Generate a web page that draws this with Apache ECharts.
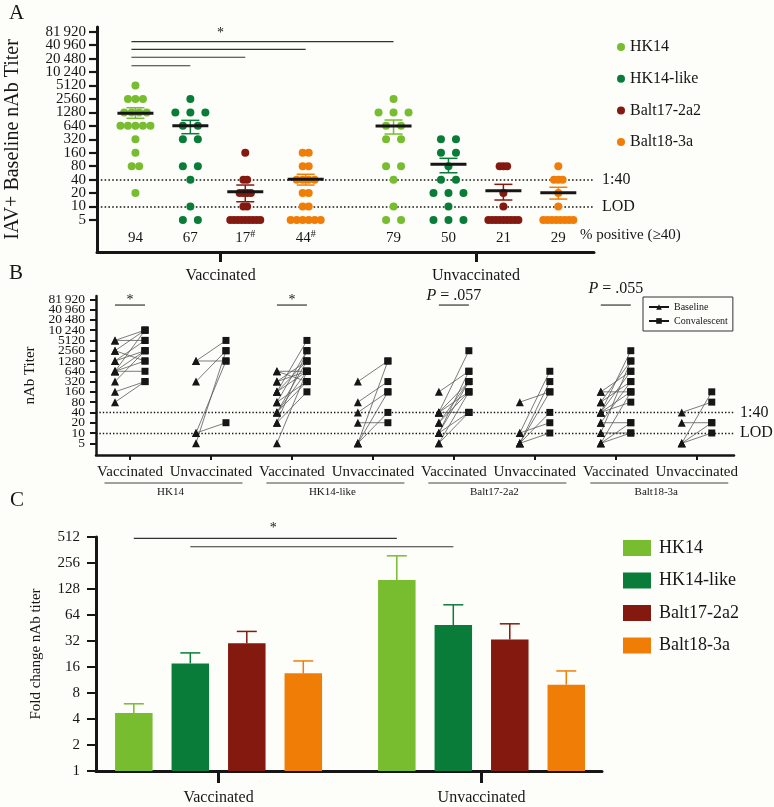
<!DOCTYPE html>
<html><head><meta charset="utf-8">
<script src="https://cdn.jsdelivr.net/npm/echarts@6/dist/echarts.min.js"></script>
<style>html,body{margin:0;padding:0;background:#fdfdf9;}#c{width:774px;height:807px;}</style>
</head><body><div id="c"></div>
<script>
// ---------------- DATA ----------------
const viruses = ['HK14', 'HK14-like', 'Balt17-2a2', 'Balt18-3a'];
const groups = ['Vaccinated', 'Unvaccinated'];
// Panel A: baseline nAb titers (one value per subject)
const aHK14Vacc      = [5120, 2560, 2560, 2560, 1280, 1280, 1280, 1280, 640, 640, 640, 640, 640, 320, 160, 80, 80, 20];
const aHK14likeVacc  = [2560, 1280, 1280, 1280, 640, 640, 320, 320, 80, 80, 40, 10, 5, 5];
const aBalt17Vacc    = [160, 40, 40, 20, 20, 20, 20, 10, 10, 5, 5, 5, 5, 5, 5, 5, 5, 5];
const aBalt18Vacc    = [160, 160, 80, 80, 40, 40, 40, 40, 20, 20, 10, 10, 5, 5, 5, 5, 5, 5];
const aHK14Unvac     = [2560, 1280, 1280, 1280, 640, 640, 320, 320, 80, 80, 40, 10, 5, 5];
const aHK14likeUnvac = [320, 320, 160, 160, 80, 40, 40, 20, 20, 20, 10, 5, 5, 5];
const aBalt17Unvac   = [80, 80, 80, 20, 10, 5, 5, 5, 5, 5, 5, 5, 5, 5];
const aBalt18Unvac   = [80, 40, 40, 40, 20, 10, 5, 5, 5, 5, 5, 5, 5, 5];
const meanA  = [1230, 645, 21.5, 40.7, 635, 88, 22.6, 20.4];
const semLoA = [943, 427, 12.8, 30.3, 420, 57, 14, 14.7];
const semHiA = [1630, 850, 30.3, 52.7, 864, 120, 31.4, 27];
const pctA   = ['94', '67', '17', '44', '79', '50', '21', '29'];
const pctMarkA = ['', '', '#', '#', '', '', '', ''];
const yTicksA = [5, 10, 20, 40, 80, 160, 320, 640, 1280, 2560, 5120, 10240, 20480, 40960, 81920];
// Panel B: [baseline, convalescent] pairs
const bHK14Vacc = [[5120,5120],[5120,10240],[2560,10240],[2560,1280],[1280,5120],[1280,2560],[640,10240],[640,640],[640,1280],[640,2560],[320,2560],[160,320],[80,320]];
const bHK14Unvac = [[1280,1280],[1280,5120],[320,2560],[10,20],[10,1280],[5,2560]];
const bHK14likeVacc = [[640,640],[640,320],[320,1280],[320,640],[160,5120],[160,1280],[160,640],[80,2560],[80,320],[40,1280],[40,640],[40,320],[20,2560],[20,160],[5,640]];
const bHK14likeUnvac = [[320,1280],[80,320],[40,160],[20,20],[5,1280],[5,160],[5,40]];
const bBalt17Vacc = [[160,640],[40,2560],[40,320],[40,160],[40,40],[20,320],[20,160],[10,640],[10,320],[10,40],[5,160],[5,40]];
const bBalt17Unvac = [[80,160],[10,640],[10,20],[5,320],[5,160],[5,40],[5,10]];
const bBalt18Vacc = [[160,160],[160,640],[80,1280],[80,320],[40,2560],[40,640],[40,160],[40,80],[20,20],[20,320],[10,1280],[10,10],[5,160],[5,20],[5,10]];
const bBalt18Unvac = [[40,80],[20,20],[5,160],[5,10],[5,20]];
// Panel C: fold change (mean, upper error)
const cVacc      = [4.7, 17.6, 30.2, 13.5];
const cVaccErr   = [6.0, 23.3, 41.3, 18.8];
const cUnvac     = [163, 48.9, 33.4, 10.0];
const cUnvacErr  = [310, 84, 50.6, 14.4];

// ---------------- STYLE / LAYOUT ----------------
const FONT = "'Liberation Serif','DejaVu Serif',serif";
const INK = '#161616';
const colors = ['#78bc30', '#0a7c3a', '#83190f', '#f07e06'];
const t5 = v => Math.log2(v / 5);
const fmtTiter = n => n >= 10000 ? String(n).slice(0, -3) + '\u2009' + String(n).slice(-3) : String(n);
const posA = [0, 1, 2, 3.1, 4.7, 5.7, 6.7, 7.7];
const labelPosA = [(posA[0] + posA[3]) / 2, (posA[4] + posA[7]) / 2];
const aGroups = [aHK14Vacc, aHK14likeVacc, aBalt17Vacc, aBalt18Vacc, aHK14Unvac, aHK14likeUnvac, aBalt17Unvac, aBalt18Unvac];
const bGroups = [bHK14Vacc, bHK14Unvac, bHK14likeVacc, bHK14likeUnvac, bBalt17Vacc, bBalt17Unvac, bBalt18Vacc, bBalt18Unvac];
const yMinA = -2.38, yMaxA = 14.35, yMinB = -1.14, yMaxB = 14.32;
const barStep = 0.2148, barW = 0.1426;
const tickPos = yTicksA.map(t5);
const tickEven = tickPos.filter((v, i) => i % 2 === 0);
const tickOdd = tickPos.filter((v, i) => i % 2 === 1);

function swarm(values, gx) {
  const counts = {};
  values.forEach(v => counts[v] = (counts[v] || 0) + 1);
  const maxRow = Math.max(...Object.values(counts));
  const sp = maxRow > 1 ? Math.min(15, 30 / (maxRow - 1)) : 0;
  const out = [];
  Object.keys(counts).forEach(k => {
    const n = counts[k];
    for (let i = 0; i < n; i++) out.push({ value: [gx, t5(+k)], symbolOffset: [(i - (n - 1) / 2) * sp, 0] });
  });
  return out;
}
const txt = (x, y, text, font, align, extra) => ({
  type: 'text', x: x, y: y,
  style: Object.assign({ text: text, fill: INK, font: font, align: align || 'center', verticalAlign: 'middle', textAlign: align || 'center', textVerticalAlign: 'middle' }, extra || {})
});

const series = [];
// ---- Panel A ----
viruses.forEach((v, k) => {
  series.push({
    name: v, type: 'scatter', xAxisIndex: 0, yAxisIndex: 0, symbol: 'circle', symbolSize: 8,
    itemStyle: { color: colors[k], opacity: 1 }, z: 3,
    data: swarm(aGroups[k], posA[k]).concat(swarm(aGroups[k + 4], posA[k + 4]))
  });
});
series.push({
  type: 'custom', xAxisIndex: 0, yAxisIndex: 0, z: 4, silent: true,
  encode: { x: 0, y: [1, 2, 3] },
  data: meanA.map((m, g) => [posA[g], t5(m), t5(semLoA[g]), t5(semHiA[g]), g % 4]),
  renderItem: (p, api) => {
    const x = api.value(0);
    const c = api.coord([x, api.value(1)]), lo = api.coord([x, api.value(2)]), hi = api.coord([x, api.value(3)]);
    const col = colors[api.value(4)];
    const st = { stroke: col, lineWidth: 1.5 };
    return { type: 'group', children: [
      { type: 'line', shape: { x1: c[0], y1: hi[1], x2: c[0], y2: lo[1] }, style: st },
      { type: 'line', shape: { x1: c[0] - 9, y1: hi[1], x2: c[0] + 9, y2: hi[1] }, style: st },
      { type: 'line', shape: { x1: c[0] - 9, y1: lo[1], x2: c[0] + 9, y2: lo[1] }, style: st },
      { type: 'line', shape: { x1: c[0] - 18, y1: c[1], x2: c[0] + 18, y2: c[1] }, style: { stroke: INK, lineWidth: 3 } }
    ] };
  }
});
// A annotations: % positive row, significance bars, reference lines
const sigA = [[0, 4, 13.26], [0, 3, 12.69], [0, 2, 12.10], [0, 1, 11.47]];
series.push({
  type: 'custom', xAxisIndex: 0, yAxisIndex: 0, z: 2, silent: true,
  data: pctA.map((p, g) => [posA[g], g]),
  renderItem: (p, api) => {
    const g = api.value(1);
    const c = api.coord([api.value(0), yMinA]);
    const el = txt(c[0], c[1] - 14, pctMarkA[g] ? '{n|' + pctA[g] + '}{s|' + pctMarkA[g] + '}' : pctA[g], '15px ' + FONT, 'center', {
      rich: { n: { font: '15px ' + FONT, fill: INK }, s: { font: '10px ' + FONT, fill: INK, padding: [0, 0, 8, 0] } }
    });
    const kids = [el];
    if (g === 0) {
      sigA.forEach(s => {
        const a = api.coord([posA[s[0]], s[2]]), b = api.coord([posA[s[1]], s[2]]);
        kids.push({ type: 'line', shape: { x1: a[0] - 4, y1: a[1], x2: b[0], y2: b[1] }, style: { stroke: '#333', lineWidth: 1.2 } });
      });
      const st = api.coord([labelPosA[0], 13.9]);
      kids.push(txt(st[0], st[1], '*', '14px ' + FONT));
    }
    return { type: 'group', children: kids };
  },
  markLine: {
    silent: true, symbol: 'none', z: 1,
    lineStyle: { color: INK, type: [1.6, 2.2], width: 1.6 },
    label: { position: 'end', distance: 8, color: INK, fontFamily: FONT, fontSize: 16 },
    data: [{ yAxis: t5(40), label: { formatter: '1:40' } }, { yAxis: t5(10), label: { formatter: 'LOD' } }]
  }
});
// ---- Panel B ----
series.push({ name: 'Baseline', type: 'line', xAxisIndex: 1, yAxisIndex: 1, data: [], symbol: 'triangle', symbolSize: 7, itemStyle: { color: INK }, lineStyle: { color: INK, width: 1 } });
series.push({ name: 'Convalescent', type: 'line', xAxisIndex: 1, yAxisIndex: 1, data: [], symbol: 'rect', symbolSize: 7, itemStyle: { color: INK }, lineStyle: { color: INK, width: 1 } });
const bLines = [], bBase = [], bConv = [];
bGroups.forEach((arr, g) => arr.forEach(pr => {
  bLines.push([g, t5(pr[0]), t5(pr[1])]);
  bBase.push({ value: [g, t5(pr[0])], symbolOffset: [-15, 0] });
  bConv.push({ value: [g, t5(pr[1])], symbolOffset: [15, 0] });
}));
series.push({
  type: 'custom', xAxisIndex: 1, yAxisIndex: 1, z: 2, silent: true, encode: { x: 0, y: [1, 2] },
  data: bLines,
  renderItem: (p, api) => {
    const a = api.coord([api.value(0), api.value(1)]), b = api.coord([api.value(0), api.value(2)]);
    return { type: 'line', shape: { x1: a[0] - 15, y1: a[1], x2: b[0] + 15, y2: b[1] }, style: { stroke: '#5a5a5a', lineWidth: 0.8 } };
  }
});
series.push({ name: 'bBase', type: 'scatter', xAxisIndex: 1, yAxisIndex: 1, symbol: 'triangle', symbolSize: 8, itemStyle: { color: INK, opacity: 1 }, z: 3, data: bBase });
series.push({ name: 'bConv', type: 'scatter', xAxisIndex: 1, yAxisIndex: 1, symbol: 'rect', symbolSize: 7, itemStyle: { color: INK, opacity: 1 }, z: 3, data: bConv });
const sigB = [[0, '*', 13.9], [2, '*', 13.9], [4, '{i|P} = .057', 14.32], [6, '{i|P} = .055', 14.98]];
series.push({
  type: 'custom', xAxisIndex: 1, yAxisIndex: 1, z: 2, silent: true,
  data: viruses.map((v, k) => [2 * k + 0.5, k]),
  renderItem: (p, api) => {
    const k = api.value(1);
    const c = api.coord([api.value(0), yMinB]);
    const kids = [
      { type: 'line', shape: { x1: c[0] - 66, y1: c[1] + 28, x2: c[0] + 72, y2: c[1] + 28 }, style: { stroke: '#444', lineWidth: 1 } },
      txt(c[0], c[1] + 37, viruses[k], '11px ' + FONT)
    ];
    const s = sigB[k];
    const l = api.coord([s[0], 13.44]), tp = api.coord([s[0], s[2]]);
    kids.push({ type: 'line', shape: { x1: l[0] - 15, y1: l[1], x2: l[0] + 15, y2: l[1] }, style: { stroke: '#333', lineWidth: 1.2 } });
    kids.push(txt(tp[0], tp[1], s[1], (k < 2 ? '14px ' : '16px ') + FONT, 'center', { rich: { i: { font: 'italic 16px ' + FONT, fill: INK } } }));
    return { type: 'group', children: kids };
  },
  markLine: {
    silent: true, symbol: 'none', z: 1,
    lineStyle: { color: INK, type: [1.4, 2], width: 1.4 },
    label: { position: 'end', distance: 6, color: INK, fontFamily: FONT, fontSize: 16 },
    data: [{ yAxis: t5(40), label: { formatter: '1:40' } }, { yAxis: t5(10), label: { formatter: 'LOD' } }]
  }
});
// ---- Panel C ----
viruses.forEach((v, k) => {
  series.push({
    name: v, type: 'custom', xAxisIndex: 2, yAxisIndex: 2, z: 3, itemStyle: { color: colors[k], opacity: 1 },
    encode: { x: 0, y: [1, 2] },
    data: [[0, cVacc[k], cVaccErr[k]], [1, cUnvac[k], cUnvacErr[k]]],
    renderItem: (p, api) => {
      const x = api.value(0) + (k - 1.5) * barStep;
      const top = api.coord([x, api.value(1)]), base = api.coord([x, 1]), err = api.coord([x, api.value(2)]);
      const l = api.coord([x - barW / 2, 1])[0], r = api.coord([x + barW / 2, 1])[0];
      const st = { stroke: colors[k], lineWidth: 1.5 };
      return { type: 'group', children: [
        { type: 'line', shape: { x1: top[0], y1: top[1], x2: err[0], y2: err[1] }, style: st },
        { type: 'line', shape: { x1: err[0] - 10, y1: err[1], x2: err[0] + 10, y2: err[1] }, style: st },
        { type: 'rect', shape: { x: l, y: top[1], width: r - l, height: base[1] - top[1] }, style: { fill: colors[k] } }
      ] };
    }
  });
});
const sigC = [[0, 494], [1, 395]];
series.push({
  type: 'custom', xAxisIndex: 2, yAxisIndex: 2, z: 2, silent: true,
  data: sigC.map(s => [s[0], s[1]]),
  renderItem: (p, api) => {
    const k = api.value(0);
    const a = api.coord([(k - 1.5) * barStep, api.value(1)]), b = api.coord([1 + (k - 1.5) * barStep, api.value(1)]);
    const kids = [{ type: 'line', shape: { x1: a[0], y1: a[1], x2: b[0], y2: b[1] }, style: { stroke: '#333', lineWidth: 1.2 } }];
    if (k === 0) kids.push(txt((a[0] + b[0]) / 2 + 8, a[1] - 10, '*', '14px ' + FONT));
    return { type: 'group', children: kids };
  }
});

const axisLine = w => ({ show: true, onZero: false, lineStyle: { color: INK, width: w } });
const titerLabel = v => fmtTiter(Math.round(5 * Math.pow(2, v)));
const labA = (vals) => ({ customValues: vals, showMinLabel: true, showMaxLabel: true, margin: 11, fontSize: 15, color: INK, fontFamily: FONT, formatter: titerLabel });
const labB = (vals) => ({ customValues: vals, showMinLabel: true, showMaxLabel: true, margin: 11, fontSize: 13.5, color: INK, fontFamily: FONT, formatter: titerLabel });
const option = {
  backgroundColor: '#fdfdf9',
  animation: false,
  textStyle: { fontFamily: FONT, color: INK },
  grid: [
    { left: 97, top: 27, width: 497, height: 225, outerBoundsMode: 'none', containLabel: false },
    { left: 96, top: 296, width: 638, height: 159, outerBoundsMode: 'none', containLabel: false },
    { left: 96, top: 537, width: 506, height: 234, outerBoundsMode: 'none', containLabel: false }
  ],
  xAxis: [
    { gridIndex: 0, type: 'value', min: -0.7, max: 8.35, splitLine: { show: false }, axisLine: axisLine(3),
      axisTick: { show: true, customValues: labelPosA, length: 10, lineStyle: { color: INK, width: 3 } },
      axisLabel: { customValues: labelPosA, margin: 16, fontSize: 16, color: INK, fontFamily: FONT, formatter: v => groups[labelPosA.indexOf(v)] } },
    { gridIndex: 1, type: 'value', min: -0.42, max: 7.46, splitLine: { show: false }, axisLine: axisLine(2.5),
      axisTick: { show: true, customValues: [0, 1, 2, 3, 4, 5, 6, 7], length: 5, lineStyle: { color: INK, width: 2 } },
      axisLabel: { customValues: [0, 1, 2, 3, 4, 5, 6, 7], margin: 10, fontSize: 15, color: INK, fontFamily: FONT, formatter: v => groups[Math.round(v) % 2] } },
    { gridIndex: 2, type: 'value', min: -0.466, max: 1.458, splitLine: { show: false }, axisLine: axisLine(3),
      axisTick: { show: true, customValues: [0, 1], length: 12, lineStyle: { color: INK, width: 3 } },
      axisLabel: { customValues: [0, 1], margin: 19, fontSize: 16, color: INK, fontFamily: FONT, formatter: v => groups[Math.round(v)] } }
  ],
  yAxis: [
    { gridIndex: 0, type: 'value', position: 'left', min: yMinA, max: yMaxA, splitLine: { show: false }, axisLine: axisLine(3),
      name: 'IAV+ Baseline nAb Titer', nameLocation: 'middle', nameGap: 74, nameRotate: 90,
      nameTextStyle: { fontSize: 20, color: INK, fontFamily: FONT },
      axisTick: { show: true, customValues: tickPos, length: 8, lineStyle: { color: INK, width: 2.2 } },
      axisLabel: labA(tickEven) },
    { gridIndex: 1, type: 'value', position: 'left', min: yMinB, max: yMaxB, splitLine: { show: false }, axisLine: axisLine(2.5),
      name: 'nAb Titer', nameLocation: 'middle', nameGap: 49, nameRotate: 90,
      nameTextStyle: { fontSize: 15, color: INK, fontFamily: FONT },
      axisTick: { show: true, customValues: tickPos, length: 6, lineStyle: { color: INK, width: 2 } },
      axisLabel: labB(tickEven) },
    { gridIndex: 2, type: 'log', logBase: 2, min: 1, max: 512, splitLine: { show: false }, axisLine: axisLine(3),
      name: 'Fold change nAb titer', nameLocation: 'middle', nameGap: 52, nameRotate: 90,
      nameTextStyle: { fontSize: 15, color: INK, fontFamily: FONT },
      axisTick: { show: true, length: 9, lineStyle: { color: INK, width: 2 } },
      axisLabel: { showMinLabel: true, showMaxLabel: true, margin: 16, fontSize: 15, color: INK, fontFamily: FONT } },
    { gridIndex: 0, type: 'value', position: 'left', offset: 0, min: yMinA, max: yMaxA, splitLine: { show: false },
      axisLine: { show: false, onZero: false }, axisTick: { show: false }, axisLabel: labA(tickOdd) },
    { gridIndex: 1, type: 'value', position: 'left', offset: 0, min: yMinB, max: yMaxB, splitLine: { show: false },
      axisLine: { show: false, onZero: false }, axisTick: { show: false }, axisLabel: labB(tickOdd) }
  ],
  legend: [
    { left: 612, top: 34, orient: 'vertical', itemWidth: 8, itemHeight: 8, itemGap: 15.7, selectedMode: false,
      textStyle: { fontSize: 16, lineHeight: 16, color: INK, fontFamily: FONT },
      data: viruses.map(v => ({ name: v, icon: 'circle' })) },
    { left: 643, top: 297, orient: 'vertical', itemWidth: 20, itemHeight: 7, itemGap: 2, selectedMode: false,
      padding: [4, 5, 4, 5], borderColor: '#333', borderWidth: 1,
      textStyle: { fontSize: 10, lineHeight: 12, color: INK, fontFamily: FONT },
      data: ['Baseline', 'Convalescent'] },
    { left: 618, top: 534, orient: 'vertical', itemWidth: 28, itemHeight: 16, itemGap: 14.5, selectedMode: false,
      textStyle: { fontSize: 18, lineHeight: 18, color: INK, fontFamily: FONT, padding: [0, 0, 0, 3] },
      data: viruses.map(v => ({ name: v, icon: 'rect' })) }
  ],
  graphic: [
    { type: 'text', left: 9, top: 3, style: { text: 'A', font: '21px ' + FONT, fill: INK } },
    { type: 'text', left: 9, top: 263, style: { text: 'B', font: '21px ' + FONT, fill: INK } },
    { type: 'text', left: 10, top: 490, style: { text: 'C', font: '21px ' + FONT, fill: INK } },
    { type: 'text', left: 580, top: 228, style: { text: '% positive (\u226540)', font: '15px ' + FONT, fill: INK } }
  ],
  series: series
};
const chart = echarts.init(document.getElementById('c'), null, { renderer: 'canvas' });
chart.setOption(option);
</script>
</body></html>
